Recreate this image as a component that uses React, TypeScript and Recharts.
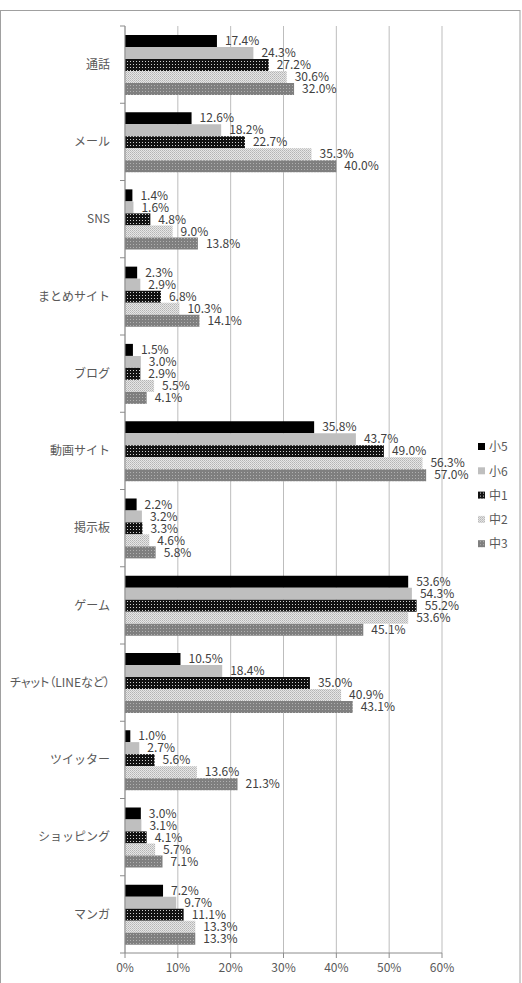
import React from "react";
import { BarChart, Bar, XAxis, YAxis, CartesianGrid, LabelList } from "recharts";

const categories = ["通話", "メール", "SNS", "まとめサイト", "ブログ", "動画サイト", "掲示板", "ゲーム", "チャット（LINEなど）", "ツイッター", "ショッピング", "マンガ"];
const sho5 = [17.4, 12.6, 1.4, 2.3, 1.5, 35.8, 2.2, 53.6, 10.5, 1.0, 3.0, 7.2];
const sho6 = [24.3, 18.2, 1.6, 2.9, 3.0, 43.7, 3.2, 54.3, 18.4, 2.7, 3.1, 9.7];
const chu1 = [27.2, 22.7, 4.8, 6.8, 2.9, 49.0, 3.3, 55.2, 35.0, 5.6, 4.1, 11.1];
const chu2 = [30.6, 35.3, 9.0, 10.3, 5.5, 56.3, 4.6, 53.6, 40.9, 13.6, 5.7, 13.3];
const chu3 = [32.0, 40.0, 13.8, 14.1, 4.1, 57.0, 5.8, 45.1, 43.1, 21.3, 7.1, 13.3];
const seriesNames = ["小5", "小6", "中1", "中2", "中3"];
const xTicks = [0, 10, 20, 30, 40, 50, 60];

const data = categories.map((c, i) => ({
  name: c,
  s5: sho5[i],
  s6: sho6[i],
  c1: chu1[i],
  c2: chu2[i],
  c3: chu3[i],
}));

const keys = ["s5", "s6", "c1", "c2", "c3"];
const fills = ["#000000", "#bfbfbf", "url(#patC1)", "url(#patC2)", "url(#patC3)"];

const FONT = "'Noto Sans CJK JP', 'Noto Sans', sans-serif";
const AXIS = "#8c8c8c";

const TOP = 26;
const BOTTOM_AXIS = 30;
const H = 983;
const BAND = (H - TOP - BOTTOM_AXIS) / categories.length;

const YTick = (props: any) => {
  const { x, y, payload, index } = props;
  const off = payload && payload.offset ? payload.offset : BAND / 2;
  const axisX = x + 8;
  const long = String(payload.value).length > 8;
  return (
    <g>
      <line x1={axisX - 5} x2={axisX} y1={y - off} y2={y - off} stroke={AXIS} />
      {index === categories.length - 1 && (
        <line x1={axisX - 5} x2={axisX} y1={y + off} y2={y + off} stroke={AXIS} />
      )}
      <text
        x={axisX - 15}
        y={y}
        dy="0.35em"
        textAnchor="end"
        fontSize={12}
        fill="#595959"
        fontFamily={FONT}
        style={long ? { fontFeatureSettings: '"palt"' } : undefined}
      >
        {payload.value}
      </text>
    </g>
  );
};

const LegendBox = () => (
  <svg width={46} height={130} style={{ position: "absolute", left: 476, top: 440, overflow: "visible" }}>
    {seriesNames.map((n, i) => (
      <g key={n} transform={`translate(0, ${i * 24.3})`}>
        <rect x={2} y={3} width={7} height={7} fill={fills[i]} />
        <text x={13} y={7} dy="0.35em" fontSize={12} fill="#595959" fontFamily={FONT}>
          {n}
        </text>
      </g>
    ))}
  </svg>
);

export default function App() {
  return (
    <div style={{ position: "fixed", left: 0, top: 0, width: 522, height: 983, background: "#fff", overflow: "hidden" }}>
      <svg width={522} height={983} style={{ position: "absolute", left: 0, top: 0 }}>
        <rect x={0.5} y={10.5} width={519.5} height={990} fill="none" stroke="#a0a0a0" />
      </svg>
      <div style={{ position: "absolute", left: 0, top: 0 }}>
        <BarChart
          width={522}
          height={983}
          data={data}
          layout="vertical"
          margin={{ top: TOP, right: 80, bottom: 0, left: 0 }}
          barCategoryGap="11.5%"
          barGap={0}
        >
          <defs>
            <pattern id="patC1" width="3" height="3" patternUnits="userSpaceOnUse">
              <rect width="3" height="3" fill="#111" />
              <rect x="1" y="1" width="1" height="1" fill="#cfcfcf" />
            </pattern>
            <pattern id="patC2" width="2" height="2" patternUnits="userSpaceOnUse">
              <rect width="2" height="2" fill="#e6e6e6" />
              <rect x="0" y="0" width="1" height="1" fill="#b4b4b4" />
              <rect x="1" y="1" width="1" height="1" fill="#c4c4c4" />
            </pattern>
            <pattern id="patC3" width="3" height="3" patternUnits="userSpaceOnUse">
              <rect width="3" height="3" fill="#7f7f7f" />
              <rect x="1" y="1" width="1" height="1" fill="#b0b0b0" />
            </pattern>
          </defs>
          <CartesianGrid horizontal={false} stroke="#bdbdbd" />
          <XAxis
            type="number"
            domain={[0, 60]}
            ticks={xTicks}
            tickFormatter={(v: number) => `${v}%`}
            axisLine={{ stroke: AXIS }}
            tickLine={{ stroke: AXIS }}
            tickSize={5}
            tickMargin={5}
            height={BOTTOM_AXIS}
            tick={{ fontSize: 12, fill: "#595959", fontFamily: FONT }}
            interval={0}
          />
          <YAxis
            type="category"
            dataKey="name"
            width={125}
            axisLine={{ stroke: AXIS }}
            tickLine={false}
            tickSize={6}
            tickMargin={2}
            interval={0}
            tick={<YTick />}
          />
          {keys.map((k, i) => (
            <Bar key={k} dataKey={k} name={seriesNames[i]} fill={fills[i]} isAnimationActive={false}>
              <LabelList
                dataKey={k}
                position="right"
                offset={8}
                formatter={(v: any) => `${Number(v).toFixed(1)}%`}
                style={{ fontSize: 12, fill: "#404040", fontFamily: FONT }}
              />
            </Bar>
          ))}
        </BarChart>
      </div>
      <LegendBox />
    </div>
  );
}
